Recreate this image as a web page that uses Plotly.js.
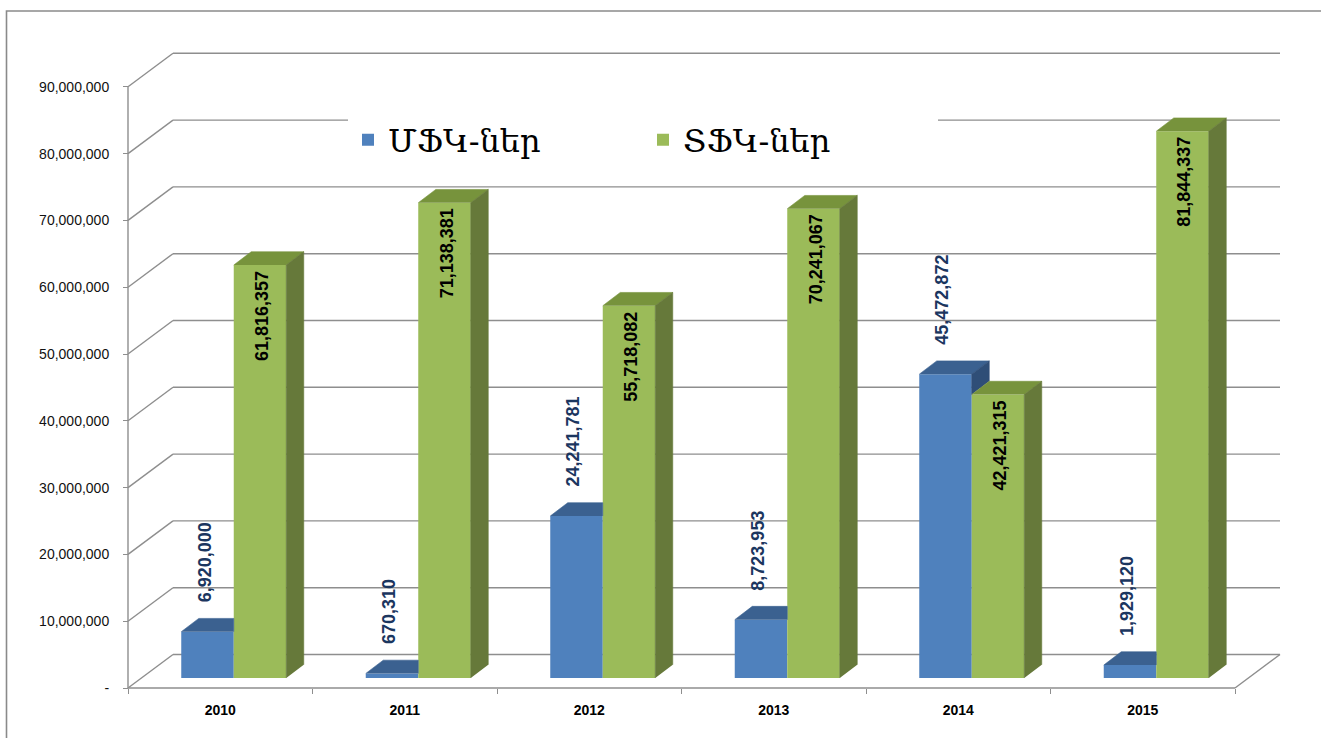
<!DOCTYPE html>
<html>
<head>
<meta charset="utf-8">
<script src="https://cdn.plot.ly/plotly-3.0.1.min.js"></script>
<style>html,body{margin:0;padding:0;background:#fff;}#chart{width:1321px;height:738px;}</style>
</head>
<body>
<div id="chart"></div>
<script>
// ---- data ----
const years = ['2010', '2011', '2012', '2013', '2014', '2015'];
const seriesNames = ['ՄՖԿ-ներ', 'ՏՖԿ-ներ'];
const mfk = [6920000, 670310, 24241781, 8723953, 45472872, 1929120];
const tfk = [61816357, 71138381, 55718082, 70241067, 42421315, 81844337];
const yTickVals = [0, 10000000, 20000000, 30000000, 40000000, 50000000, 60000000, 70000000, 80000000, 90000000];
const yTickText = ['-', '10,000,000', '20,000,000', '30,000,000', '40,000,000', '50,000,000', '60,000,000', '70,000,000', '80,000,000', '90,000,000'];

// ---- style / geometry ----
const W = 1321, H = 738;
const ML = 122, MR = 39, MT = 52, MB = 44;
const PX_CAT = 184.5;            // px per category
const PX_VAL = 6.68 / 1e6;       // px per unit value
const FRONT_X = 128, FRONT_Y = 688;
const WALL_DX = 45 / PX_CAT, WALL_DY = 33.5 / PX_VAL;
const PLANE = 0.3;
const SHIFT_X = PLANE * WALL_DX, BASE = PLANE * WALL_DY;
const BW = 52.5 / PX_CAT;
const BDX = 17.5 / PX_CAT, BDY = 13.3 / PX_VAL;
const colBlue = '#4F81BD', colBlueTop = '#3B6190', colBlueSide = '#2F4E77';
const colGreen = '#9BBB59', colGreenTop = '#77933C', colGreenSide = '#66793A';
const gridCol = '#8E8E8E';

const plotW = W - ML - MR, plotH = H - MT - MB;
const nCat = years.length;
const xMin = -0.5 - (FRONT_X - ML) / PX_CAT;
const xMax = -0.5 + (W - MR - FRONT_X) / PX_CAT;
const yMin = -(H - MB - FRONT_Y) / PX_VAL;
const yMax = (FRONT_Y - MT) / PX_VAL;

const idx = years.map((_, i) => i);
const xBlue = idx.map(i => i + SHIFT_X - BW / 2);
const xGreen = idx.map(i => i + SHIFT_X + BW / 2);
const boundaries = [];
for (let i = 0; i <= nCat; i++) boundaries.push(i - 0.5);

// ---- 3D faces ----
function pushPoly(acc, pts) {
  pts.forEach(p => { acc.x.push(p[0]); acc.y.push(p[1]); });
  acc.x.push(null); acc.y.push(null);
}
const blueTop = {x: [], y: []}, blueSide = {x: [], y: []};
const greenTop = {x: [], y: []}, greenSide = {x: [], y: []};
idx.forEach(i => {
  const b = mfk[i], g = tfk[i];
  let x0 = xBlue[i] - BW / 2, x1 = xBlue[i] + BW / 2, yt = BASE + b;
  if (g > b) {
    pushPoly(blueTop, [[x0, yt], [x0 + BDX, yt + BDY], [x1, yt + BDY], [x1, yt]]);
  } else {
    pushPoly(blueTop, [[x0, yt], [x0 + BDX, yt + BDY], [x1 + BDX, yt + BDY], [x1, yt]]);
    pushPoly(blueSide, [[x1, BASE + g], [x1, yt], [x1 + BDX, yt + BDY], [x1 + BDX, BASE + g + BDY]]);
  }
  x0 = xGreen[i] - BW / 2; x1 = xGreen[i] + BW / 2; yt = BASE + g;
  pushPoly(greenTop, [[x0, yt], [x0 + BDX, yt + BDY], [x1 + BDX, yt + BDY], [x1, yt]]);
  pushPoly(greenSide, [[x1, BASE], [x1, yt], [x1 + BDX, yt + BDY], [x1 + BDX, BASE + BDY]]);
});

function faceTrace(acc, col) {
  return {type: 'scatter', mode: 'lines', x: acc.x, y: acc.y, fill: 'toself', fillcolor: col,
    line: {color: col, width: 0.6}, showlegend: false, hoverinfo: 'skip'};
}

const traces = [
  {type: 'bar', name: seriesNames[0], x: xBlue, y: mfk, base: idx.map(() => BASE), width: BW,
    marker: {color: colBlue, line: {width: 0}}, hovertemplate: '%{y:,}<extra>' + seriesNames[0] + '</extra>'},
  {type: 'bar', name: seriesNames[1], x: xGreen, y: tfk, base: idx.map(() => BASE), width: BW,
    marker: {color: colGreen, line: {width: 0}}, hovertemplate: '%{y:,}<extra>' + seriesNames[1] + '</extra>'},
  faceTrace(blueTop, colBlueTop),
  faceTrace(blueSide, colBlueSide),
  faceTrace(greenTop, colGreenTop),
  faceTrace(greenSide, colGreenSide)
];

// ---- shapes: back wall gridlines, floor, front axes, frame ----
const shapes = [];
const lineSty = {color: gridCol, width: 1.4};
yTickVals.forEach(v => {
  shapes.push({type: 'line', layer: 'below', xref: 'x', yref: 'y', x0: -0.5, y0: v, x1: -0.5 + WALL_DX, y1: v + WALL_DY, line: lineSty});
  shapes.push({type: 'line', layer: 'below', xref: 'x', yref: 'y', x0: -0.5 + WALL_DX, y0: v + WALL_DY, x1: nCat - 0.5 + WALL_DX, y1: v + WALL_DY, line: lineSty});
});
shapes.push({type: 'line', layer: 'below', xref: 'x', yref: 'y', x0: -0.5, y0: 0, x1: nCat - 0.5, y1: 0, line: lineSty});
shapes.push({type: 'line', layer: 'below', xref: 'x', yref: 'y', x0: nCat - 0.5, y0: 0, x1: nCat - 0.5 + WALL_DX, y1: WALL_DY, line: lineSty});
shapes.push({type: 'line', layer: 'below', xref: 'x', yref: 'y', x0: -0.5, y0: 0, x1: -0.5, y1: yTickVals[yTickVals.length - 1], line: lineSty});
shapes.push({type: 'rect', layer: 'above', xref: 'paper', yref: 'paper',
  x0: (6.5 - ML) / plotW, x1: (W + 20 - ML) / plotW,
  y0: (H - MB - (H + 20)) / plotH, y1: (H - MB - 11) / plotH,
  line: {color: '#8A8A8A', width: 1.6}, fillcolor: 'rgba(0,0,0,0)'});

// ---- data labels ----
const fmt = v => v.toLocaleString('en-US');
const annotations = [];
idx.forEach(i => {
  annotations.push({xref: 'x', yref: 'y', x: xBlue[i], y: BASE + mfk[i], text: '<b>' + fmt(mfk[i]) + '</b>',
    showarrow: false, textangle: -90, xanchor: 'center', yanchor: 'bottom', yshift: 27, xshift: -3,
    font: {family: 'Liberation Sans, Arial, sans-serif', size: 18, color: '#1B365F'}});
  annotations.push({xref: 'x', yref: 'y', x: xGreen[i], y: BASE + tfk[i], text: '<b>' + fmt(tfk[i]) + '</b>',
    showarrow: false, textangle: -90, xanchor: 'center', yanchor: 'top', yshift: -4, xshift: 2,
    font: {family: 'Liberation Sans, Arial, sans-serif', size: 18, color: '#000000'}});
});

const layout = {
  width: W, height: H,
  margin: {l: ML, r: MR, t: MT, b: MB, pad: 0},
  paper_bgcolor: '#ffffff', plot_bgcolor: 'rgba(0,0,0,0)',
  barmode: 'overlay',
  showlegend: true,
  legend: {orientation: 'h', x: (348 - ML) / plotW, xanchor: 'left', y: (H - MB - 140) / plotH, yanchor: 'middle',
    bgcolor: '#ffffff', borderwidth: 0, entrywidth: 250, entrywidthmode: 'pixels',
    font: {family: 'DejaVu Serif, serif', size: 32, color: '#000000'}},
  xaxis: {type: 'linear', range: [xMin, xMax], anchor: 'free', position: (H - MB - FRONT_Y) / plotH,
    tickmode: 'array', tickvals: idx, ticktext: years.map(y => '<b>' + y + '</b>'), ticks: '', showgrid: false, zeroline: false, showline: false,
    ticklabelstandoff: 12,
    tickfont: {family: 'Liberation Sans, Arial, sans-serif', size: 14, color: '#000000'},
    minor: {tickmode: 'array', tickvals: boundaries, ticks: 'outside', ticklen: 5, tickcolor: gridCol, tickwidth: 1.3, showgrid: false},
    fixedrange: true},
  yaxis: {type: 'linear', range: [yMin, yMax], anchor: 'free', position: (FRONT_X - ML) / plotW,
    tickmode: 'array', tickvals: yTickVals, ticktext: yTickText, ticks: 'outside', ticklen: 5, tickcolor: gridCol, tickwidth: 1.3,
    showgrid: false, zeroline: false, showline: false, ticklabelstandoff: 11,
    tickfont: {family: 'Liberation Sans, Arial, sans-serif', size: 14, color: '#111111'},
    fixedrange: true},
  shapes: shapes,
  annotations: annotations
};

Plotly.newPlot('chart', traces, layout, {displayModeBar: false});
</script>
</body>
</html>
